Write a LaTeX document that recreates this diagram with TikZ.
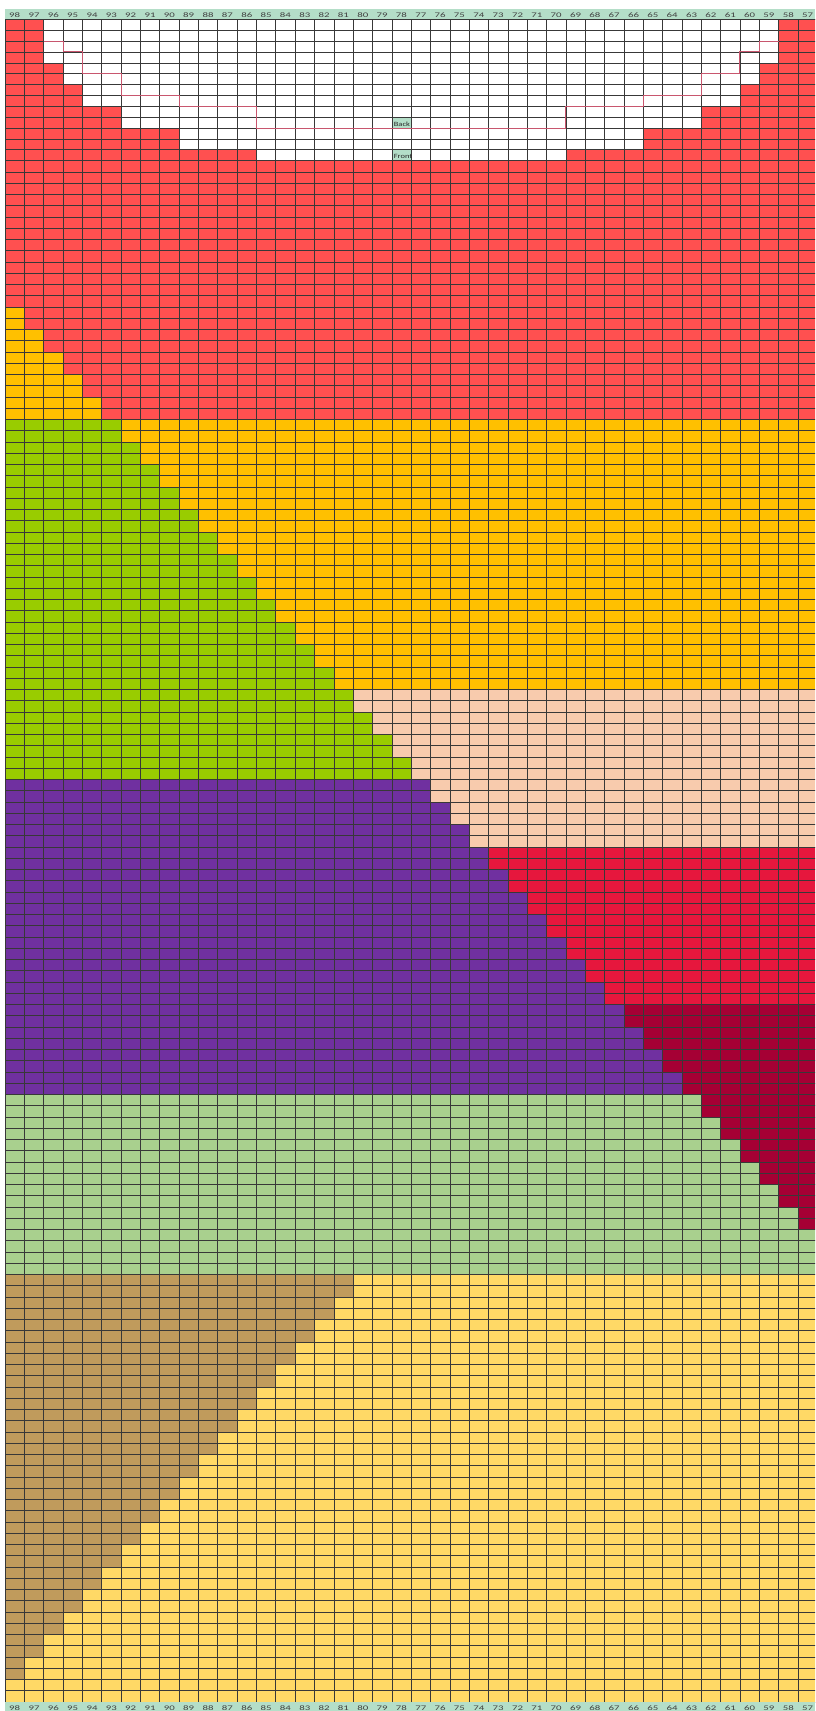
\documentclass[tikz,border=0pt]{standalone}
\usepackage{fontspec}
\setmainfont{Carlito}
\definecolor{cred}{HTML}{FF5050}
\definecolor{cgold}{HTML}{FFC000}
\definecolor{cgreen}{HTML}{99CC00}
\definecolor{cpeach}{HTML}{F8CBAD}
\definecolor{cpurple}{HTML}{7030A0}
\definecolor{cred2}{HTML}{E6173D}
\definecolor{cdark}{HTML}{A50034}
\definecolor{clgreen}{HTML}{A9D08E}
\definecolor{ctan}{HTML}{C09B5C}
\definecolor{cyel}{HTML}{FFD966}
\definecolor{cmint}{HTML}{B4DEC8}
\definecolor{cneck}{HTML}{C8566E}
\newcommand\blk[5]{\fill[#1] ({cx(#2)},{ry(#4)}) rectangle ({cx(#3)},{ry(#5)});}
\begin{document}
\begin{tikzpicture}[x=1pt,y=-1pt,
  declare function={cx(\c)=5+19.34*\c; ry(\r)=ifthenelse(\r<13.5,19.3+10.87*\r,160.7+11.25*(\r-13));},
  gridline/.style={black!78,line width=0.55pt},
  neckline/.style={cneck,line width=1pt},
  hdr/.style={font=\fontsize{7}{8}\selectfont,text=black!75,xscale=1.55,anchor=base,inner sep=0pt},
  lbl/.style={font=\fontsize{6.5}{7}\selectfont,text=black!85,xscale=1.3,anchor=base west,inner sep=0pt}]
\useasboundingbox (0,0) rectangle (815,1711);
\clip (0,0) rectangle (815,1711);
\fill[white] (0,0) rectangle (815,1711);
% band 1: red with neck
\blk{cred}{0}{42}{0}{36}
\blk{white}{2}{3}{0}{4}
\blk{white}{3}{4}{0}{6}
\blk{white}{4}{6}{0}{8}
\blk{white}{6}{9}{0}{10}
\blk{white}{9}{13}{0}{12}
\blk{white}{13}{29}{0}{13}
\blk{white}{29}{33}{0}{12}
\blk{white}{33}{36}{0}{10}
\blk{white}{36}{38}{0}{8}
\blk{white}{38}{39}{0}{6}
\blk{white}{39}{40}{0}{4}
\foreach \k in {0,...,4} {\blk{cgold}{\k}{\k+1}{26+2*\k}{36}}
% band 2
\blk{cgold}{0}{42}{36}{60}
\blk{cpeach}{0}{42}{60}{74}
\blk{cred2}{0}{42}{74}{88}
\blk{cdark}{0}{42}{88}{96}
\foreach \j in {0,...,15} {\blk{cgreen}{0}{6+\j}{36+2*\j}{38+2*\j}}
\foreach \j in {0,...,13} {\blk{cpurple}{0}{22+\j}{68+2*\j}{70+2*\j}}
% band 4
\blk{clgreen}{0}{42}{96}{112}
\foreach \j in {0,...,5} {\blk{cdark}{36+\j}{42}{96+2*\j}{98+2*\j}}
% band 5
\blk{cyel}{0}{42}{112}{150}
\foreach \j in {0,...,17} {\blk{ctan}{0}{18-\j}{112+2*\j}{114+2*\j}}
% labels cells
\blk{cmint}{20}{21}{9}{10}
\blk{cmint}{20}{21}{12}{13}
% grid
\foreach \c in {0,...,42} {\draw[gridline] ({cx(\c)},{ry(0)}) -- ({cx(\c)},{ry(150)});}
\foreach \r in {0,...,150} {\draw[gridline] ({cx(0)},{ry(\r)}) -- ({cx(42)},{ry(\r)});}
% back neckline
\draw[neckline] ({cx(2)},{ry(2)}) -- ({cx(3)},{ry(2)}) -- ({cx(3)},{ry(3)}) -- ({cx(4)},{ry(3)}) -- ({cx(4)},{ry(5)}) -- ({cx(6)},{ry(5)}) -- ({cx(6)},{ry(7)}) -- ({cx(9)},{ry(7)}) -- ({cx(9)},{ry(8)}) -- ({cx(13)},{ry(8)}) -- ({cx(13)},{ry(10)}) -- ({cx(29)},{ry(10)}) -- ({cx(29)},{ry(8)}) -- ({cx(33)},{ry(8)}) -- ({cx(33)},{ry(7)}) -- ({cx(36)},{ry(7)}) -- ({cx(36)},{ry(5)}) -- ({cx(38)},{ry(5)}) -- ({cx(38)},{ry(3)}) -- ({cx(39)},{ry(3)}) -- ({cx(39)},{ry(2)}) -- ({cx(40)},{ry(2)});
\node[lbl] (back) at ({cx(20)+1.8},126.2) {Back};
\node[lbl] (front) at ({cx(20)+1.8},158.6) {Front};
% headers
\fill[cmint] (5,9.3) rectangle (815,19.3);
\fill[cmint] (5,{ry(150)}) rectangle (815,1711);
\foreach \i in {0,...,41} {
  \pgfmathtruncatemacro\lab{98-\i}
  \node[hdr] (t\i) at ({cx(\i+0.5)},17.2) {\lab};
  \node[hdr] (b\i) at ({cx(\i+0.5)},1710.3) {\lab};
}
\end{tikzpicture}
\end{document}
